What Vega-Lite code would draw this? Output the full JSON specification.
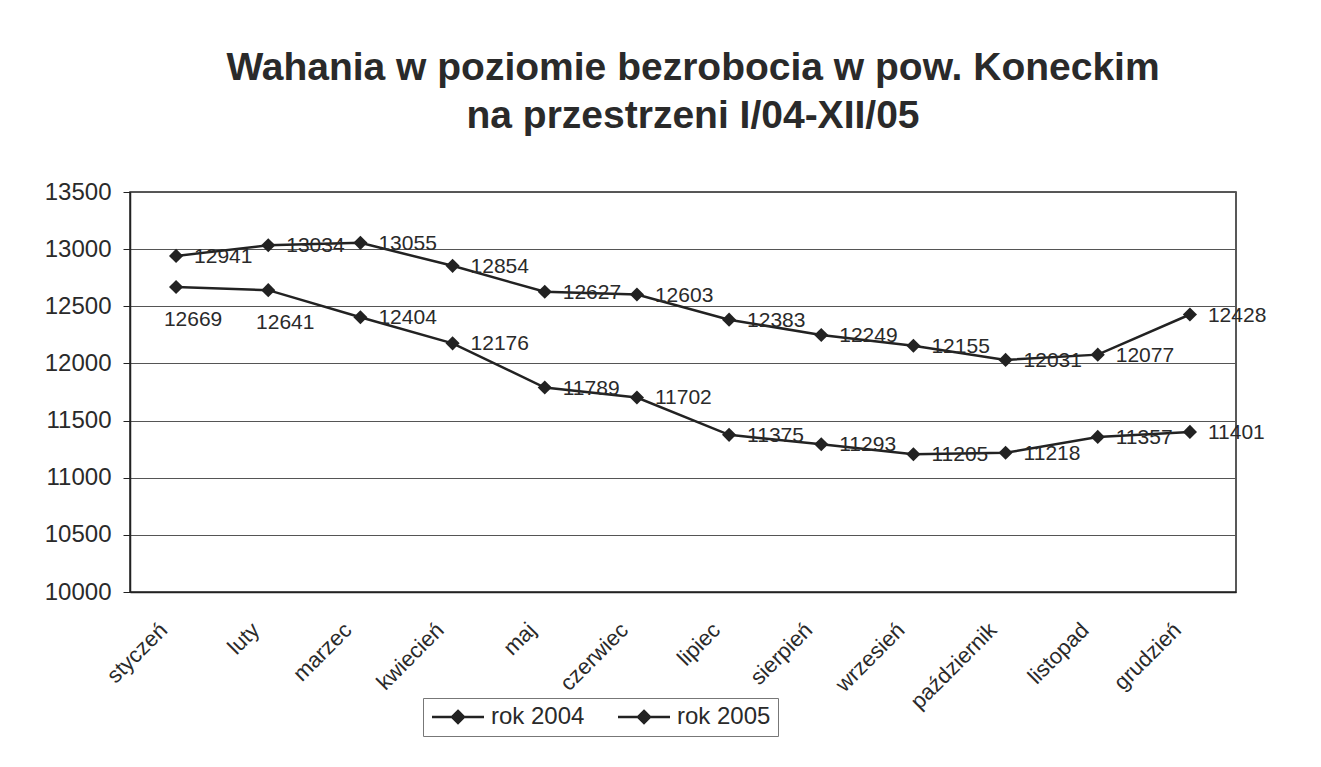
{
  "$schema": "https://vega.github.io/schema/vega-lite/v6.json",
  "width": 1106,
  "height": 400,
  "autosize": {"type": "none"},
  "padding": {"left": 130, "top": 192, "right": 85, "bottom": 175},
  "background": "white",
  "config": {
    "font": "Liberation Sans",
    "view": {"stroke": "#222", "strokeWidth": 1.5}
  },
  "title": {
    "text": ["Wahania w poziomie bezrobocia w pow. Koneckim", "na przestrzeni I/04-XII/05"],
    "fontSize": 39,
    "fontWeight": "bold",
    "font": "Liberation Sans",
    "color": "#2a2a2a",
    "anchor": "middle",
    "lineHeight": 48,
    "offset": 44,
    "dx": 10
  },
  "data": {
    "values": [
      {"month": "styczeń", "year": "rok 2004", "value": 12941},
      {"month": "luty", "year": "rok 2004", "value": 13034},
      {"month": "marzec", "year": "rok 2004", "value": 13055},
      {"month": "kwiecień", "year": "rok 2004", "value": 12854},
      {"month": "maj", "year": "rok 2004", "value": 12627},
      {"month": "czerwiec", "year": "rok 2004", "value": 12603},
      {"month": "lipiec", "year": "rok 2004", "value": 12383},
      {"month": "sierpień", "year": "rok 2004", "value": 12249},
      {"month": "wrzesień", "year": "rok 2004", "value": 12155},
      {"month": "październik", "year": "rok 2004", "value": 12031},
      {"month": "listopad", "year": "rok 2004", "value": 12077},
      {"month": "grudzień", "year": "rok 2004", "value": 12428},
      {"month": "styczeń", "year": "rok 2005", "value": 12669},
      {"month": "luty", "year": "rok 2005", "value": 12641},
      {"month": "marzec", "year": "rok 2005", "value": 12404},
      {"month": "kwiecień", "year": "rok 2005", "value": 12176},
      {"month": "maj", "year": "rok 2005", "value": 11789},
      {"month": "czerwiec", "year": "rok 2005", "value": 11702},
      {"month": "lipiec", "year": "rok 2005", "value": 11375},
      {"month": "sierpień", "year": "rok 2005", "value": 11293},
      {"month": "wrzesień", "year": "rok 2005", "value": 11205},
      {"month": "październik", "year": "rok 2005", "value": 11218},
      {"month": "listopad", "year": "rok 2005", "value": 11357},
      {"month": "grudzień", "year": "rok 2005", "value": 11401}
    ]
  },
  "encoding": {
    "x": {
      "field": "month",
      "type": "nominal",
      "sort": ["styczeń", "luty", "marzec", "kwiecień", "maj", "czerwiec", "lipiec", "sierpień", "wrzesień", "październik", "listopad", "grudzień"],
      "scale": {"type": "point", "padding": 0.5},
      "axis": {
        "title": null,
        "labelAngle": -45,
        "labelAlign": "right",
        "labelBaseline": "top",
        "labelFontSize": 22,
        "labelColor": "#2a2a2a",
        "labelPadding": 27,
        "labelOffset": -20,
        "ticks": false,
        "domainColor": "#222",
        "domainWidth": 1.5,
        "grid": false
      }
    },
    "y": {
      "field": "value",
      "type": "quantitative",
      "scale": {"domain": [10000, 13500], "nice": false, "zero": false},
      "axis": {
        "title": null,
        "values": [10000, 10500, 11000, 11500, 12000, 12500, 13000, 13500],
        "format": "d",
        "labelFontSize": 24,
        "labelColor": "#2a2a2a",
        "labelPadding": 12,
        "tickSize": 7,
        "tickColor": "#222",
        "domainColor": "#222",
        "domainWidth": 1.5,
        "grid": true,
        "gridColor": "#555",
        "gridWidth": 1
      }
    }
  },
  "layer": [
    {
      "mark": {"type": "line", "strokeWidth": 2.5},
      "encoding": {
        "color": {
          "field": "year",
          "type": "nominal",
          "scale": {"domain": ["rok 2004", "rok 2005"], "range": ["#222", "#222"]},
          "legend": {
            "title": null,
            "orient": "none",
            "legendX": 293,
            "legendY": 506,
            "direction": "horizontal",
            "symbolType": "M-2.6,0H2.6M0,-0.6L0.6,0L0,0.6L-0.6,0Z",
            "symbolSize": 400,
            "symbolOffset": 16,
            "symbolStrokeWidth": 2.5,
            "symbolFillColor": "#222",
            "labelFontSize": 24,
            "labelColor": "#2a2a2a",
            "labelOffset": 21,
            "columnPadding": 28,
            "padding": 7,
            "strokeColor": "#777",
            "fillColor": "white"
          }
        }
      }
    },
    {
      "mark": {"type": "point", "shape": "diamond", "filled": true, "size": 200, "opacity": 1},
      "encoding": {
        "color": {"field": "year", "type": "nominal", "legend": null}
      }
    },
    {
      "transform": [{"filter": "!(datum.year == 'rok 2005' && (datum.month == 'styczeń' || datum.month == 'luty'))"}],
      "mark": {"type": "text", "align": "left", "baseline": "middle", "dx": 18, "dy": 1, "fontSize": 21, "color": "#2a2a2a"},
      "encoding": {"text": {"field": "value", "type": "quantitative", "format": "d"}}
    },
    {
      "transform": [{"filter": "datum.year == 'rok 2005' && (datum.month == 'styczeń' || datum.month == 'luty')"}],
      "mark": {"type": "text", "align": "center", "baseline": "middle", "dx": 17, "dy": 33, "fontSize": 21, "color": "#2a2a2a"},
      "encoding": {"text": {"field": "value", "type": "quantitative", "format": "d"}}
    }
  ]
}
